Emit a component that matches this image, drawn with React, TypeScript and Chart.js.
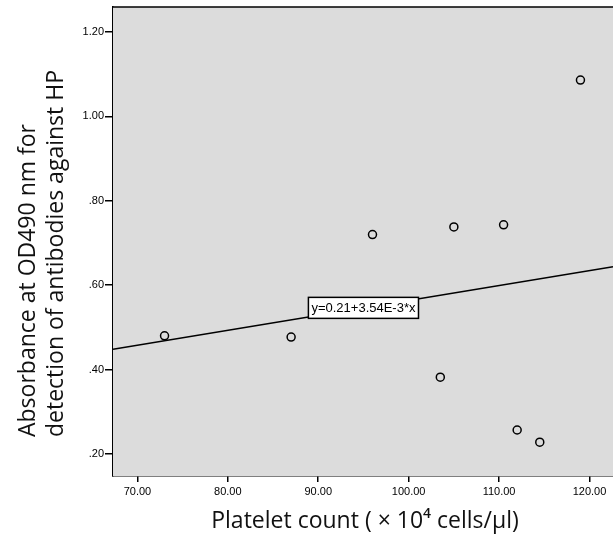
import { useEffect, useRef } from "react";
import { Chart, registerables } from "chart.js";

Chart.register(...registerables);

// ---- data ----
const plateletCount = [73, 87, 96, 103.5, 105, 110.5, 112, 114.5, 119];
const absorbance = [0.48, 0.477, 0.72, 0.382, 0.738, 0.743, 0.257, 0.228, 1.086];
const xTickValues = [70, 80, 90, 100, 110, 120];
const yTickValues = [0.2, 0.4, 0.6, 0.8, 1.0, 1.2];
const fitIntercept = 0.21;
const fitSlope = 3.54e-3;
const fitLabel = "y=0.21+3.54E-3*x";
const fitLabelAtX = 95;
const xRange = [67.3, 122.6];
const yRange = [0.148, 1.259];
const xTitle = "Platelet count ( × 10⁴ cells/μl)";
const yTitle = ["Absorbance at OD490 nm for", "detection of antibodies against HP"];

const W = 613;
const H = 541;
const TITLE_FONT = '23px "Open Sans"';
const TICK_FONT = { family: '"Liberation Sans", Arial, sans-serif', size: 11 };

export default function App() {
  const ref = useRef<HTMLCanvasElement | null>(null);

  useEffect(() => {
    if (!ref.current) return;
    const fitLine = xRange.map((x) => ({ x, y: fitIntercept + fitSlope * x }));
    const points = plateletCount.map((x, i) => ({ x, y: absorbance[i] }));

    const decor = {
      id: "decor",
      beforeDatasetsDraw(chart: any) {
        const { ctx, chartArea: a } = chart;
        ctx.save();
        ctx.fillStyle = "#dcdcdc";
        ctx.fillRect(a.left, a.top, a.right - a.left, a.bottom - a.top);
        ctx.restore();
      },
      afterDatasetsDraw(chart: any) {
        const { ctx, chartArea: a, scales } = chart;
        ctx.save();
        // top border
        ctx.strokeStyle = "#000";
        ctx.lineWidth = 1.5;
        ctx.beginPath();
        ctx.moveTo(a.left, a.top);
        ctx.lineTo(a.right, a.top);
        ctx.stroke();
        // fit label
        const cx = scales.x.getPixelForValue(fitLabelAtX);
        const cy = scales.y.getPixelForValue(fitIntercept + fitSlope * fitLabelAtX);
        ctx.font = '13px "Liberation Sans", Arial, sans-serif';
        const tw = ctx.measureText(fitLabel).width;
        const bw = tw + 6;
        const bh = 21;
        ctx.fillStyle = "#fff";
        ctx.fillRect(cx - bw / 2, cy - bh / 2, bw, bh);
        ctx.strokeStyle = "#000";
        ctx.lineWidth = 1.5;
        ctx.strokeRect(cx - bw / 2, cy - bh / 2, bw, bh);
        ctx.fillStyle = "#000";
        ctx.textAlign = "center";
        ctx.textBaseline = "middle";
        ctx.fillText(fitLabel, cx, cy + 1);
        ctx.restore();
      },
      afterDraw(chart: any) {
        const { ctx, chartArea: a } = chart;
        ctx.save();
        ctx.fillStyle = "#111";
        ctx.font = TITLE_FONT;
        ctx.textAlign = "center";
        ctx.textBaseline = "middle";
        ctx.fillText(xTitle, (a.left + a.right) / 2 + 2, 521);
        const xs = [28, 56];
        yTitle.forEach((line, i) => {
          ctx.save();
          ctx.translate(xs[i], 437);
          ctx.rotate(-Math.PI / 2);
          ctx.textAlign = "left";
          ctx.fillText(line, 0, 0);
          ctx.restore();
        });
        ctx.restore();
      },
    };

    const chart = new Chart(ref.current, {
      type: "scatter",
      data: {
        datasets: [
          {
            type: "line",
            data: fitLine,
            borderColor: "#000",
            borderWidth: 1.5,
            pointRadius: 0,
            fill: false,
          } as any,
          {
            data: points,
            pointStyle: "circle",
            pointRadius: 4,
            borderColor: "#000",
            backgroundColor: "rgba(0,0,0,0)",
            borderWidth: 1.5,
          },
        ],
      },
      options: {
        responsive: false,
        animation: false,
        layout: { autoPadding: false, padding: { top: 7, right: 0, left: 0, bottom: 0 } },
        plugins: { legend: { display: false }, tooltip: { enabled: false } },
        scales: {
          x: {
            type: "linear",
            min: xRange[0],
            max: xRange[1],
            afterBuildTicks: (s: any) => {
              s.ticks = xTickValues.map((v) => ({ value: v }));
            },
            afterFit: (s: any) => {
              s.height = 65;
              s.paddingRight = 0;
              s.paddingLeft = 0;
            },
            ticks: {
              color: "#000",
              font: TICK_FONT,
              padding: 3,
              maxRotation: 0,
              callback: (v: any) => Number(v).toFixed(2),
            },
            grid: { drawOnChartArea: false, drawTicks: true, tickLength: 6, color: "#000", lineWidth: 1.5 },
            border: { display: true, color: "#000", width: 1.5 },
          },
          y: {
            type: "linear",
            min: yRange[0],
            max: yRange[1],
            afterBuildTicks: (s: any) => {
              s.ticks = yTickValues.map((v) => ({ value: v }));
            },
            afterFit: (s: any) => {
              s.width = 113;
              s.paddingTop = 0;
              s.paddingBottom = 0;
            },
            ticks: {
              color: "#000",
              font: TICK_FONT,
              padding: 1,
              callback: (v: any) => Number(v).toFixed(2).replace(/^0/, ""),
            },
            grid: { drawOnChartArea: false, drawTicks: true, tickLength: 8, color: "#000", lineWidth: 1.5 },
            border: { display: true, color: "#000", width: 1.5 },
          },
        },
      },
      plugins: [decor],
    });
    return () => chart.destroy();
  }, []);

  return (
    <div style={{ position: "fixed", left: 0, top: 0, width: W, height: H, background: "#fff" }}>
      <canvas ref={ref} width={W} height={H} style={{ width: W, height: H, display: "block" }} />
    </div>
  );
}
